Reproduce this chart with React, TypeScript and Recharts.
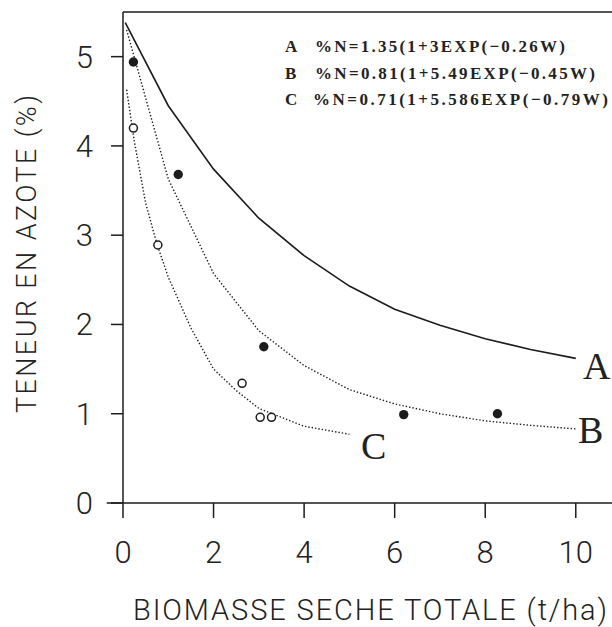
import React from "react";
import {
  ComposedChart,
  Line,
  ReferenceLine,
  Scatter,
  XAxis,
  YAxis,
} from "recharts";

// values (t/ha vs % N)
const xTicks = [0, 2, 4, 6, 8, 10];
const yTicks = [0, 1, 2, 3, 4, 5];

const curveA = [
  { x: 0.05, y: 5.38 },
  { x: 1, y: 4.45 },
  { x: 2, y: 3.74 },
  { x: 3, y: 3.19 },
  { x: 4, y: 2.77 },
  { x: 5, y: 2.43 },
  { x: 6, y: 2.17 },
  { x: 7, y: 1.99 },
  { x: 8, y: 1.84 },
  { x: 9, y: 1.72 },
  { x: 10, y: 1.62 },
];

const curveB = [
  { x: 0.08, y: 5.3 },
  { x: 1, y: 3.63 },
  { x: 2, y: 2.57 },
  { x: 3, y: 1.93 },
  { x: 4, y: 1.54 },
  { x: 5, y: 1.27 },
  { x: 6, y: 1.11 },
  { x: 7, y: 1.0 },
  { x: 8, y: 0.92 },
  { x: 9, y: 0.87 },
  { x: 10, y: 0.83 },
];

const curveC = [
  { x: 0.08, y: 4.63 },
  { x: 0.25, y: 4.05 },
  { x: 0.5, y: 3.36 },
  { x: 0.75, y: 2.9 },
  { x: 1, y: 2.53 },
  { x: 1.5, y: 1.96 },
  { x: 2, y: 1.5 },
  { x: 2.5, y: 1.26 },
  { x: 3, y: 1.06 },
  { x: 4, y: 0.86 },
  { x: 5, y: 0.77 },
];

const pointsB = [
  { x: 0.23, y: 4.94 },
  { x: 1.22, y: 3.68 },
  { x: 3.11, y: 1.75 },
  { x: 6.2, y: 0.99 },
  { x: 8.27, y: 1.0 },
];

const pointsC = [
  { x: 0.23, y: 4.2 },
  { x: 0.77, y: 2.89 },
  { x: 2.63, y: 1.34 },
  { x: 3.03, y: 0.96 },
  { x: 3.28, y: 0.96 },
];

const equations = [
  { key: "A", text: "%N=1.35(1+3EXP(\u22120.26W)", x: 315, len: 250 },
  { key: "B", text: "%N=0.81(1+5.49EXP(\u22120.45W)", x: 315, len: 280 },
  { key: "C", text: "%N=0.71(1+5.586EXP(\u22120.79W)", x: 313, len: 295 },
];

const ink = "#1c1c1c";
const tickStyle = { fill: "#222", fontSize: 31, fontFamily: "Roboto", fontWeight: 300 };

const FilledDot = (props: any) => (
  <circle cx={props.cx} cy={props.cy} r={4.7} fill={ink} />
);
const OpenDot = (props: any) => (
  <circle cx={props.cx} cy={props.cy} r={4} fill="#fff" stroke={ink} strokeWidth={1.5} />
);

export default function App() {
  return (
    <div style={{ position: "absolute", left: 0, top: 0, width: 612, height: 627, background: "#fff" }}>
      <ComposedChart width={612} height={627} margin={{ top: 12, right: 0, bottom: 0, left: 0 }}>
        <XAxis
          dataKey="x"
          type="number"
          domain={[0, 10.8]}
          allowDataOverflow
          ticks={xTicks}
          interval={0}
          height={124}
          axisLine={false}
          tickSize={15}
          tickMargin={23}
          tickLine={{ stroke: ink, strokeWidth: 1.5 }}
          tick={tickStyle}
        />
        <YAxis
          dataKey="y"
          type="number"
          domain={[0, 5.5]}
          allowDataOverflow
          ticks={yTicks}
          interval={0}
          width={123}
          tickSize={12}
          tickMargin={18}
          axisLine={{ stroke: ink, strokeWidth: 1.5 }}
          tickLine={{ stroke: ink, strokeWidth: 1.5 }}
          tick={tickStyle}
        />
        <ReferenceLine y={5.5} stroke={ink} strokeWidth={1.5} />
        <ReferenceLine
          segment={[{ x: -0.36, y: 0 }, { x: 10.8, y: 0 }]}
          ifOverflow="visible"
          stroke={ink}
          strokeWidth={1.5}
        />
        <Line data={curveA} dataKey="y" type="linear" stroke={ink} strokeWidth={1.6} dot={false} isAnimationActive={false} />
        <Line data={curveB} dataKey="y" type="linear" stroke={ink} strokeWidth={1.4} strokeDasharray="1.4 2" dot={false} isAnimationActive={false} />
        <Line data={curveC} dataKey="y" type="linear" stroke={ink} strokeWidth={1.4} strokeDasharray="1.4 2" dot={false} isAnimationActive={false} />
        <Scatter data={pointsB} dataKey="y" shape={FilledDot} isAnimationActive={false} />
        <Scatter data={pointsC} dataKey="y" shape={OpenDot} isAnimationActive={false} />
      </ComposedChart>
      <svg width={612} height={627} style={{ position: "absolute", left: 0, top: 0, pointerEvents: "none" }}>
        {equations.map((e, i) => (
          <g key={e.key} fontFamily="Liberation Serif" fontWeight="bold" fontSize={17} fill="#222">
            <text x={285} y={52 + i * 26.7}>{e.key}</text>
            <text x={e.x} y={52 + i * 26.7} textLength={e.len} lengthAdjust="spacing">{e.text}</text>
          </g>
        ))}
        <g fontFamily="Liberation Serif" fontSize={38} fill="#222">
          <text x={583} y={379}>A</text>
          <text x={578} y={443}>B</text>
          <text x={361} y={459}>C</text>
        </g>
        <text
          x={36}
          y={254}
          transform="rotate(-90 36 254)"
          textAnchor="middle"
          fontFamily="Roboto"
          fontWeight={300}
          fontSize={27}
          fill="#222"
          textLength={318}
          lengthAdjust="spacing"
        >
          TENEUR EN AZOTE (%)
        </text>
        <text
          x={133}
          y={619.5}
          fontFamily="Roboto"
          fontWeight={300}
          fontSize={29}
          fill="#222"
          textLength={474}
          lengthAdjust="spacing"
        >
          BIOMASSE SECHE TOTALE (t/ha)
        </text>
      </svg>
    </div>
  );
}
